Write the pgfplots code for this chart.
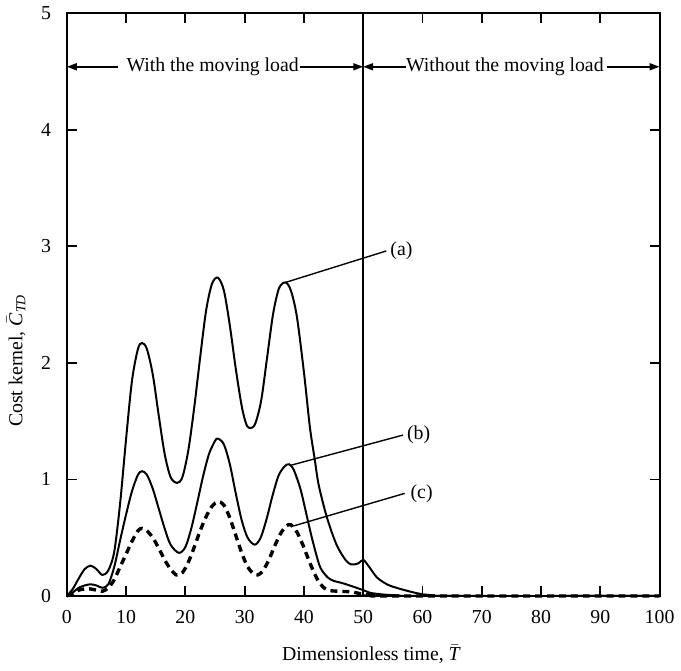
\documentclass[border=0pt]{standalone}
\usepackage{pgfplots}
\pgfplotsset{compat=1.18}
\usepackage{fontspec}
\setmainfont{Liberation Serif}
\usetikzlibrary{arrows.meta}
\begin{document}
\begin{tikzpicture}
\begin{axis}[
  scale only axis,
  width=298.5bp, height=293.5bp,
  xmin=0, xmax=100, ymin=0, ymax=5,
  xtick={0,10,...,100}, ytick={0,1,2,3,4,5},
  tick align=inside, tick pos=both,
  major tick length=5bp,
  axis line style={line width=1bp},
  every tick/.style={line width=0.9bp, black},
  /pgf/number format/assume math mode=true,
  tick label style={font=\fontsize{10}{12}\selectfont},
  xticklabel style={yshift=-3.5bp},
  yticklabel style={xshift=-4.5bp},
  label style={font=\fontsize{10}{12}\selectfont},
  xlabel={Dimensionless time, $\bar{\mbox{\textit{T}}}$},
  ylabel={Cost kernel, $\bar{\mbox{\textit{C}}}_{\mbox{\scriptsize\textit{TD}}}$},
  xlabel style={at={(ticklabel cs:0.514)}, yshift=-4bp},
  ylabel style={at={(ticklabel cs:0.404)}, yshift=1bp},
  clip=false,
]
% (a)
\addplot[black, line width=1bp, smooth] coordinates {
(0,0) (1,0.06) (2,0.15) (3,0.23) (4,0.26) (5,0.23) (6,0.18) (7,0.22) (8,0.38)
(9,0.80) (10,1.35) (11,1.85) (12,2.12) (12.7,2.17) (13.5,2.12) (14.5,1.90)
(15.5,1.55) (16.5,1.22) (17.5,1.02) (18.6,0.97) (19.5,1.02) (20.5,1.25)
(21.5,1.62) (22.5,2.05) (23.5,2.45) (24.5,2.68) (25.5,2.73) (26.5,2.62)
(27.5,2.32) (28.5,1.95) (29.5,1.63) (30.3,1.47) (31,1.44) (31.8,1.48)
(32.8,1.68) (33.8,2.05) (34.8,2.42) (35.8,2.64) (36.9,2.69) (37.8,2.62)
(38.8,2.40) (40,1.92) (41,1.45) (41.8,1.18) (42.5,0.95) (43.9,0.67)
(45.5,0.44) (47,0.31) (48,0.27) (49.2,0.28) (50,0.31) (51,0.25) (52.3,0.16)
(54,0.10) (55.6,0.07) (57,0.05) (58.5,0.03) (60,0.015) (62,0.005) (65,0) (100,0)
};
% (b)
\addplot[black, line width=1bp, smooth] coordinates {
(0,0) (1,0.03) (2,0.07) (3,0.09) (4,0.10) (5,0.09) (6,0.07) (7,0.10) (8,0.25)
(9,0.48) (10,0.70) (11,0.90) (12,1.04) (12.7,1.07) (13.5,1.04) (14.5,0.92)
(15.5,0.75) (16.5,0.58) (17.5,0.44) (18.9,0.37) (20,0.42) (21,0.58) (22,0.80)
(23,1.03) (24,1.22) (25,1.33) (25.5,1.35) (26.5,1.30) (27.5,1.13) (28.5,0.88)
(29.5,0.65) (30.5,0.50) (31.7,0.44) (32.7,0.50) (33.7,0.66) (34.7,0.86)
(35.7,1.03) (36.7,1.11) (37.5,1.13) (38.3,1.08) (39.4,0.92) (40.2,0.75)
(41.1,0.55) (42,0.37) (42.8,0.24) (44,0.16) (45,0.13) (46.5,0.11) (48.3,0.08)
(50,0.05) (51,0.03) (52,0.02) (54,0.01) (56,0.005) (60,0) (100,0)
};
% (c)
\addplot[black, line width=1.7bp, smooth, dash pattern=on 3.5bp off 2.5bp] coordinates {
(0,0) (1,0.02) (2,0.05) (3,0.06) (4,0.06) (5,0.05) (6,0.04) (7,0.07) (8,0.14)
(9,0.25) (10,0.36) (11,0.47) (12,0.56) (12.7,0.58) (13.5,0.56) (14.5,0.50)
(15.5,0.41) (16.5,0.31) (17.5,0.23) (18.5,0.18) (19.5,0.20) (20.5,0.29)
(21.5,0.42) (22.5,0.56) (23.5,0.68) (24.5,0.77) (25.5,0.81) (26.5,0.78)
(27.5,0.67) (28.5,0.52) (29.5,0.37) (30.5,0.25) (31.5,0.19) (32.2,0.18)
(33,0.21) (34,0.30) (35,0.42) (36,0.53) (37,0.60) (37.8,0.61) (38.8,0.55)
(39.8,0.44) (40.8,0.31) (41.8,0.19) (42.8,0.10) (44,0.05) (46,0.04) (48,0.035)
(50,0.015) (52,0.005) (55,0) (100,0)
};
% vertical separator
\draw[line width=1bp] (axis cs:50,0) -- (axis cs:50,5);
% region arrows
\tikzset{arr/.style={line width=0.9bp, -{Triangle[length=5bp,width=3.5bp]}}}
\node[font=\fontsize{10}{12}\selectfont, inner sep=0pt] at (axis cs:24.6,4.54) {With the moving load};
\node[font=\fontsize{10}{12}\selectfont, inner sep=0pt] at (axis cs:73.9,4.54) {Without the moving load};
\draw[arr] (axis cs:8.7,4.54) -- (axis cs:0,4.54);
\draw[arr] (axis cs:39.4,4.54) -- (axis cs:50,4.54);
\draw[arr] (axis cs:57.2,4.54) -- (axis cs:50,4.54);
\draw[arr] (axis cs:91.2,4.54) -- (axis cs:100,4.54);
% leaders and labels
\draw[line width=0.7bp] (axis cs:36.9,2.69) -- (axis cs:53.9,2.96);
\node[font=\fontsize{10}{12}\selectfont, anchor=west, inner sep=1bp] at (axis cs:54.2,2.96) {(a)};
\draw[line width=0.7bp] (axis cs:37.7,1.12) -- (axis cs:56.7,1.38);
\node[font=\fontsize{10}{12}\selectfont, anchor=west, inner sep=1bp] at (axis cs:57.0,1.38) {(b)};
\draw[line width=0.7bp] (axis cs:38.2,0.60) -- (axis cs:57.0,0.88);
\node[font=\fontsize{10}{12}\selectfont, anchor=west, inner sep=1bp] at (axis cs:57.6,0.88) {(c)};
\end{axis}
\end{tikzpicture}
\end{document}
